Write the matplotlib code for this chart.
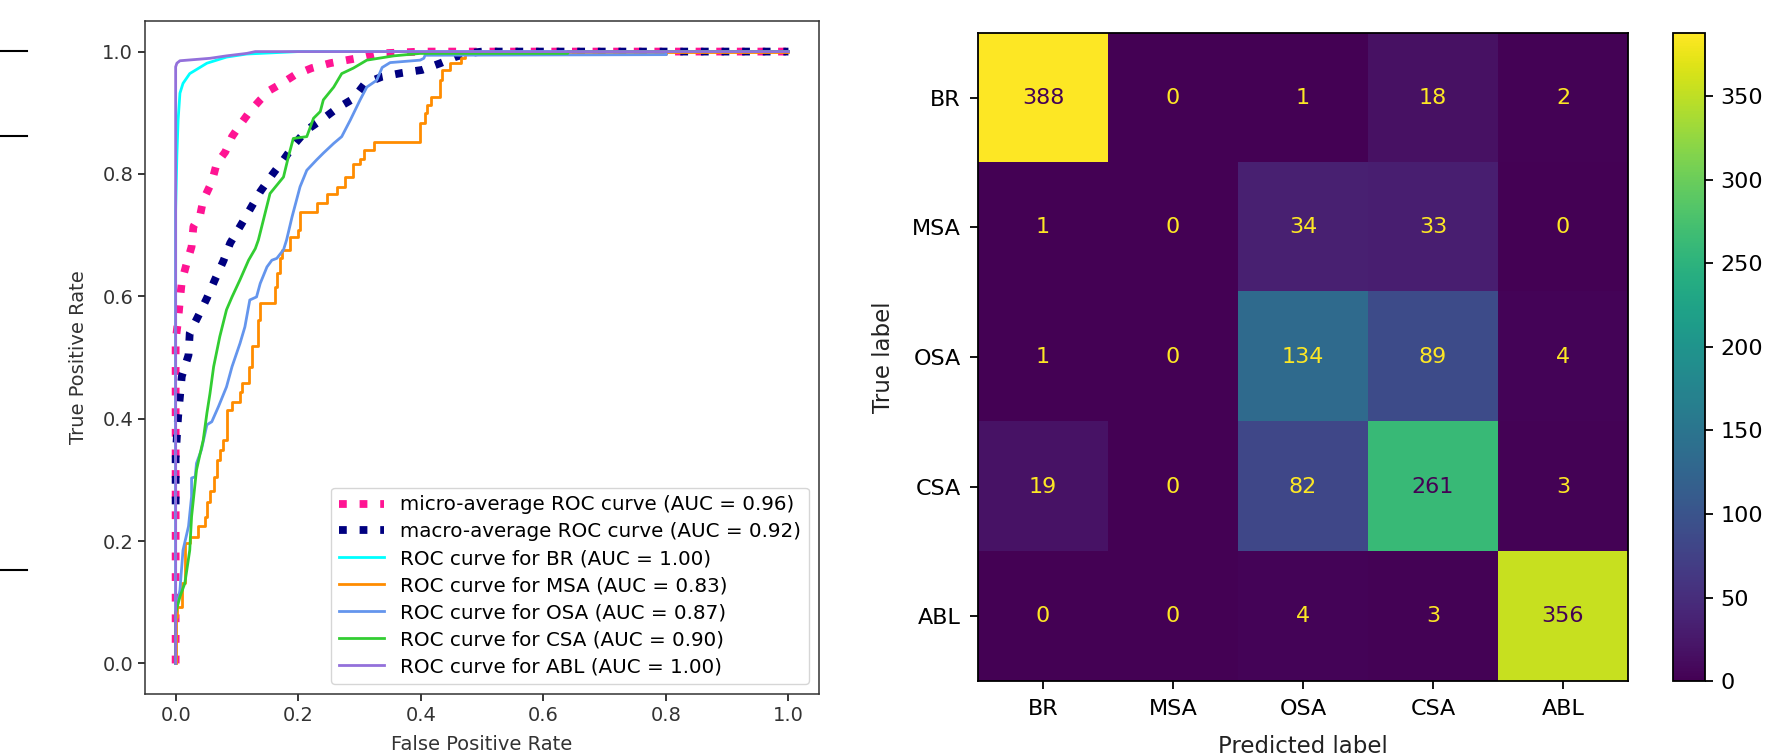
import numpy as np
import matplotlib
matplotlib.use("Agg")
import matplotlib.pyplot as plt
from matplotlib.lines import Line2D

# ---- ROC data ----
micro_fpr = [0, 0, 0, 0.004, 0.007, 0.010, 0.018, 0.026, 0.029, 0.040, 0.045, 0.059, 0.067, 0.081,
             0.092, 0.105, 0.121, 0.138, 0.154, 0.173, 0.195, 0.222, 0.252, 0.279, 0.307, 0.334, 0.40, 1.0]
micro_tpr = [0, 0.50, 0.528, 0.561, 0.594, 0.624, 0.654, 0.681, 0.714, 0.733, 0.757, 0.787, 0.817, 0.836,
             0.861, 0.880, 0.902, 0.921, 0.937, 0.948, 0.962, 0.973, 0.981, 0.986, 0.991, 0.997, 1.0, 1.0]

macro_fpr = [0, 0, 0.002, 0.004, 0.007, 0.010, 0.021, 0.023, 0.037, 0.051, 0.064, 0.078, 0.089, 0.108,
             0.138, 0.157, 0.176, 0.195, 0.214, 0.239, 0.263, 0.290, 0.309, 0.337, 0.369, 0.402, 0.432,
             0.456, 0.475, 0.50, 1.0]
macro_tpr = [0.26, 0.336, 0.371, 0.403, 0.436, 0.469, 0.504, 0.540, 0.568, 0.597, 0.627, 0.658, 0.687, 0.719,
             0.771, 0.798, 0.823, 0.850, 0.872, 0.889, 0.907, 0.923, 0.948, 0.959, 0.965, 0.970, 0.981,
             0.991, 0.997, 1.0, 1.0]

br_fpr = [0, 0, 0.002, 0.004, 0.007, 0.012, 0.023, 0.051, 0.083, 0.116, 0.20, 1.0]
br_tpr = [0, 0.74, 0.83, 0.888, 0.932, 0.948, 0.964, 0.981, 0.991, 0.996, 1.0, 1.0]

msa_fpr = [0, 0, 0.002, 0.010, 0.015, 0.023, 0.037, 0.037, 0.048, 0.051, 0.056, 0.062, 0.067, 0.072,
           0.078, 0.083, 0.092, 0.105, 0.108, 0.119, 0.124, 0.135, 0.138, 0.140, 0.162, 0.165, 0.170,
           0.173, 0.187, 0.200, 0.203, 0.230, 0.247, 0.263, 0.277, 0.290, 0.301, 0.307, 0.323, 0.337,
           0.399, 0.407, 0.410, 0.416, 0.432, 0.435, 0.448, 0.465, 0.473, 0.478, 0.49, 1.0]
msa_tpr = [0, 0.06, 0.076, 0.093, 0.131, 0.196, 0.207, 0.22, 0.224, 0.240, 0.264, 0.281, 0.305, 0.333,
           0.349, 0.365, 0.414, 0.428, 0.444, 0.458, 0.485, 0.518, 0.561, 0.589, 0.589, 0.616, 0.638,
           0.662, 0.676, 0.697, 0.708, 0.738, 0.752, 0.768, 0.779, 0.795, 0.817, 0.825, 0.839, 0.853,
           0.853, 0.883, 0.899, 0.913, 0.926, 0.953, 0.970, 0.981, 0.989, 0.997, 1.0, 1.0]

osa_fpr = [0, 0, 0.007, 0.012, 0.021, 0.026, 0.026, 0.032, 0.034, 0.042, 0.051, 0.059, 0.070, 0.083,
           0.092, 0.105, 0.113, 0.121, 0.132, 0.138, 0.149, 0.157, 0.165, 0.176, 0.181, 0.190, 0.203,
           0.214, 0.230, 0.241, 0.258, 0.271, 0.285, 0.301, 0.312, 0.328, 0.337, 0.350, 0.399, 0.405,
           0.407, 0.80, 0.80, 1.0]
osa_tpr = [0, 0.082, 0.120, 0.185, 0.224, 0.273, 0.303, 0.305, 0.327, 0.349, 0.390, 0.395, 0.420, 0.452,
           0.485, 0.523, 0.550, 0.594, 0.599, 0.621, 0.648, 0.659, 0.662, 0.676, 0.692, 0.730, 0.779,
           0.806, 0.823, 0.834, 0.850, 0.861, 0.888, 0.921, 0.942, 0.953, 0.974, 0.982, 0.986, 0.989,
           0.994, 0.995, 1.0, 1.0]

csa_fpr = [0, 0, 0.007, 0.015, 0.023, 0.026, 0.034, 0.040, 0.045, 0.051, 0.056, 0.062, 0.072, 0.083,
           0.092, 0.105, 0.119, 0.130, 0.135, 0.154, 0.176, 0.184, 0.192, 0.214, 0.225, 0.236, 0.241,
           0.258, 0.271, 0.290, 0.312, 0.356, 0.399, 0.64, 0.64, 1.0]
csa_tpr = [0, 0.082, 0.109, 0.131, 0.185, 0.240, 0.316, 0.343, 0.365, 0.409, 0.441, 0.485, 0.534, 0.578,
           0.599, 0.627, 0.659, 0.678, 0.692, 0.768, 0.795, 0.828, 0.858, 0.861, 0.891, 0.902, 0.921,
           0.942, 0.964, 0.973, 0.986, 0.993, 0.997, 0.997, 1.0, 1.0]

abl_fpr = [0, 0, 0.002, 0.007, 0.056, 0.083, 0.116, 0.13, 1.0]
abl_tpr = [0, 0.975, 0.981, 0.985, 0.989, 0.993, 0.997, 1.0, 1.0]

class_names = ['BR', 'MSA', 'OSA', 'CSA', 'ABL']
class_auc = [1.00, 0.83, 0.87, 0.90, 1.00]
class_colors = ['aqua', 'darkorange', 'cornflowerblue', 'limegreen', 'mediumpurple']
micro_auc = 0.96
macro_auc = 0.92

# ---- confusion matrix ----
conf = np.array([[388, 0, 1, 18, 2],
                 [1, 0, 34, 33, 0],
                 [1, 0, 134, 89, 4],
                 [19, 0, 82, 261, 3],
                 [0, 0, 4, 3, 356]])

fig = plt.figure(figsize=(17.88, 7.55), dpi=100)

# stray marks at the left border of the original screenshot
for yy in [0.9318, 0.8202, 0.2456]:
    fig.add_artist(Line2D([0, 0.0151], [yy, yy], color='black', lw=1.5,
                          transform=fig.transFigure))

# ---------------- ROC plot ----------------
ax = fig.add_axes([0.0811, 0.0808, 0.3770, 0.8914])
ax.plot(micro_fpr, micro_tpr, color='deeppink', linestyle=':', linewidth=5.6,
        label='micro-average ROC curve (AUC = {:.2f})'.format(micro_auc))
ax.plot(macro_fpr, macro_tpr, color='navy', linestyle=':', linewidth=5.6,
        label='macro-average ROC curve (AUC = {:.2f})'.format(macro_auc))

curves = [(br_fpr, br_tpr), (msa_fpr, msa_tpr), (osa_fpr, osa_tpr),
          (csa_fpr, csa_tpr), (abl_fpr, abl_tpr)]
for i, (f, t) in enumerate(curves):
    ds = 'steps-pre' if class_names[i] == 'MSA' else 'default'
    ax.plot(f, t, color=class_colors[i], lw=2.0, drawstyle=ds,
            label='ROC curve for {} (AUC = {:.2f})'.format(class_names[i], class_auc[i]))

ax.set_xlabel('False Positive Rate', fontsize=14, color='#333333', labelpad=7.5)
ax.set_ylabel('True Positive Rate', fontsize=14, color='#333333', labelpad=10.5)
ax.tick_params(labelsize=14, length=5, width=1.1, labelcolor='#333333')
for s in ax.spines.values():
    s.set_linewidth(1.1)
    s.set_color('#333333')
ax.legend(loc='lower right', fontsize=14.3, handlelength=2.3, labelspacing=0.4)

# ---------------- confusion matrix ----------------
cmap = plt.get_cmap('viridis')
ax2 = fig.add_axes([0.5470, 0.0980, 0.3635, 0.8583])
im = ax2.imshow(conf, cmap=cmap, interpolation='nearest', aspect='auto', vmin=0, vmax=conf.max())
thresh = (conf.max() + conf.min()) / 2.0
for i in range(conf.shape[0]):
    for j in range(conf.shape[1]):
        c = cmap(0.0) if conf[i, j] >= thresh else cmap(1.0)
        ax2.text(j, i, str(conf[i, j]), ha='center', va='center', color=c, fontsize=16)
ax2.set_xticks(range(len(class_names)))
ax2.set_xticklabels(class_names)
ax2.set_yticks(range(len(class_names)))
ax2.set_yticklabels(class_names)
ax2.set_xlabel('Predicted label', fontsize=16.5, color='#222222', labelpad=12)
ax2.set_ylabel('True label', fontsize=16.5, color='#222222', labelpad=12)
ax2.tick_params(labelsize=16, length=5.6, width=1.3, pad=7)
for s in ax2.spines.values():
    s.set_linewidth(1.3)

cax = fig.add_axes([0.9357, 0.0980, 0.0179, 0.8583])
cb = fig.colorbar(im, cax=cax)
cb.set_ticks([0, 50, 100, 150, 200, 250, 300, 350])
cb.ax.tick_params(labelsize=16, length=5.6, width=1.3, pad=5.6)
cb.outline.set_linewidth(1.3)

fig.savefig('out.png', dpi=100)
